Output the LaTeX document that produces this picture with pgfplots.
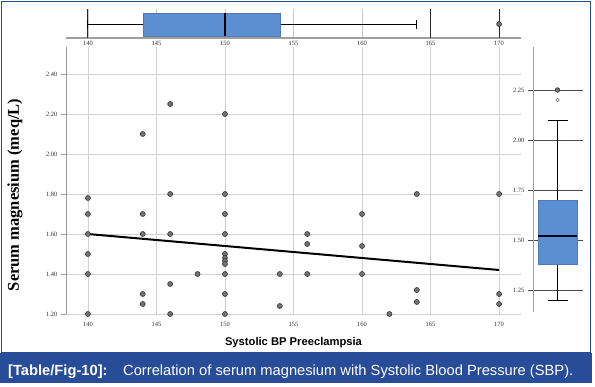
\documentclass[border=0pt]{standalone}
\usepackage{fontspec}
\setmainfont{Liberation Sans}
\newfontfamily\seriffont{Liberation Serif}
\usepackage{pgfplots}
\pgfplotsset{compat=1.18}
\usepgfplotslibrary{statistics}
\definecolor{frameblue}{RGB}{40,74,145}
\definecolor{bandblue}{RGB}{40,76,152}
\definecolor{boxblue}{RGB}{92,143,210}
\pgfplotsset{ticklbl/.style={font=\seriffont\fontsize{6.5}{7}\selectfont, text=black!80}}
\begin{document}
\begin{tikzpicture}
\fill[white] (0,0) rectangle (595pt,386pt);
\useasboundingbox (0,0) rectangle (595pt,386pt);

% ---------- scatter ----------
\begin{axis}[
  at={(66pt,72pt)}, anchor=south west, scale only axis,
  width=455pt, height=267pt,
  xmin=138.4, xmax=171.6, ymin=1.2, ymax=2.535,
  axis x line*=bottom, axis y line*=left,
  x axis line style={draw=none},
  y axis line style={draw=gray!80, line width=1pt, -},
  xtick={140,145,150,155,160,165,170},
  ytick={1.2,1.4,1.6,1.8,2.0,2.2,2.4},
  grid=major, major grid style={draw=gray!35, line width=0.8pt},
  tick align=outside, major tick length=5pt,
  major x tick style={draw=none},
  major y tick style={draw=gray!80, line width=0.8pt},
  /pgf/number format/assume math mode=true,
  tick label style={ticklbl},
  yticklabel style={/pgf/number format/.cd, fixed, fixed zerofill, precision=2},
  xticklabel style={/pgf/number format/.cd, fixed, precision=0},
  xlabel={Systolic BP Preeclampsia},
  xlabel style={font=\bfseries\fontsize{11.2}{13}\selectfont, at={(axis description cs:0.5,-0.109)}, anchor=center},
  ylabel={Serum magnesium (meq/L)},
  ylabel style={font=\seriffont\bfseries\fontsize{16.5}{18}\selectfont, at={(axis description cs:-0.112,0.446)}, anchor=center},
]
\addplot[only marks, mark=*, mark size=2.5pt, mark options={fill=black!55, draw=black!80, line width=0.6pt}] table {
x y
140 1.78
140 1.70
140 1.60
140 1.50
140 1.40
140 1.20
144 2.10
144 1.70
144 1.60
144 1.30
144 1.25
146 2.25
146 1.80
146 1.60
146 1.35
146 1.20
148 1.40
150 2.20
150 1.80
150 1.70
150 1.60
150 1.50
150 1.48
150 1.465
150 1.45
150 1.40
150 1.30
150 1.20
154 1.40
154 1.24
156 1.60
156 1.55
156 1.40
160 1.70
160 1.54
160 1.40
162 1.20
164 1.80
164 1.32
164 1.26
170 1.80
170 1.30
170 1.25
};
\addplot[black, line width=2pt] coordinates {(140,1.60) (170,1.42)};
\end{axis}

% ---------- top boxplot ----------
\begin{axis}[
  at={(66pt,348pt)}, anchor=south west, scale only axis,
  width=455pt, height=29pt,
  xmin=138.4, xmax=171.6, ymin=0, ymax=1,
  axis x line*=bottom, axis y line=none,
  x axis line style={draw=gray!75, line width=1.5pt, -},
  xtick={140,145,150,155,160,165,170}, ytick=\empty,
  xmajorgrids, major grid style={draw=gray!45, line width=0.8pt},
  major x tick style={draw=none},
  /pgf/number format/assume math mode=true,
  tick label style={ticklbl},
  clip=false,
]
\addplot[black!85, line width=1pt] coordinates {(140,0) (140,1)};
\addplot[black!85, line width=1pt] coordinates {(165,0) (165,1)};
\addplot[black!85, line width=1pt] coordinates {(170,0) (170,1)};
\addplot[draw=black, line width=0.9pt,
  boxplot/draw direction=x,
  boxplot/every box/.style={fill=boxblue, draw=boxblue!85!black, line width=0.4pt},
  boxplot/every median/.style={draw=black, line width=2pt},
  boxplot/every whisker/.style={draw=black, line width=0.9pt},
  boxplot prepared={lower whisker=140, lower quartile=144, median=150,
    upper quartile=154, upper whisker=164, draw position=0.465,
    box extend=0.79, whisker extend=0.28}] coordinates {};
\addplot[only marks, mark=*, mark size=2.5pt, mark options={fill=black!55, draw=black!80, line width=0.6pt}] coordinates {(170,0.48)};
\end{axis}

% ---------- right boxplot ----------
\begin{axis}[
  at={(533pt,74pt)}, anchor=south west, scale only axis,
  width=50pt, height=265pt,
  xmin=0, xmax=1, ymin=1.14, ymax=2.465,
  axis y line*=left, axis x line=none,
  y axis line style={draw=gray!75, line width=1pt, -},
  ytick={1.25,1.5,1.75,2.0,2.25}, xtick=\empty,
  ymajorgrids, major grid style={draw=black!70, line width=0.9pt},
  tick align=outside, major tick length=5pt,
  major y tick style={draw=black!70, line width=0.9pt},
  /pgf/number format/assume math mode=true,
  tick label style={ticklbl},
  yticklabel style={/pgf/number format/.cd, fixed, fixed zerofill, precision=2},
  clip=false,
]
\addplot[draw=black, line width=0.9pt,
  boxplot/draw direction=y,
  boxplot/every box/.style={fill=boxblue, draw=boxblue!85!black, line width=0.4pt},
  boxplot/every median/.style={draw=black!90!blue, line width=2pt},
  boxplot/every whisker/.style={draw=black, line width=0.9pt},
  boxplot prepared={lower whisker=1.20, lower quartile=1.38, median=1.52,
    upper quartile=1.70, upper whisker=2.10, draw position=0.49,
    box extend=0.78, whisker extend=0.4}] coordinates {};
\addplot[only marks, mark=*, mark size=2.3pt, mark options={fill=black!55, draw=black!80, line width=0.6pt}] coordinates {(0.49,2.25)};
\addplot[only marks, mark=o, mark size=1.8pt, mark options={draw=black!60, line width=0.5pt}] coordinates {(0.49,2.20)};
\end{axis}

% ---------- frame and caption band ----------
\draw[frameblue, line width=1.6pt] (1.5pt,33pt) rectangle (590.5pt,384.5pt);
\fill[bandblue] (0pt,3pt) rectangle (592pt,33pt);
\node[anchor=base west, text=white, font=\bfseries\fontsize{14.7}{16}\selectfont, inner sep=0pt] at (8pt,11pt) {[Table/Fig-10]:};
\node[anchor=base west, text=white, font=\fontsize{14.7}{16}\selectfont, inner sep=0pt] at (123pt,11pt) {Correlation of serum magnesium with Systolic Blood Pressure (SBP).};
\end{tikzpicture}
\end{document}
